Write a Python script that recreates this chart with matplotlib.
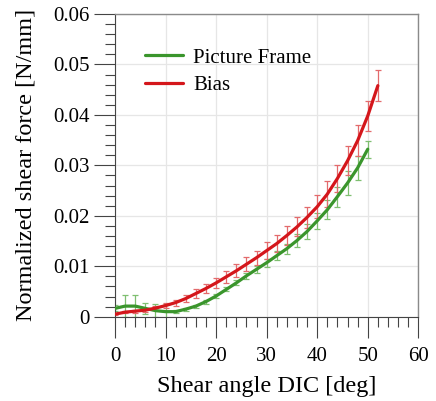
import matplotlib
matplotlib.use("Agg")
import matplotlib.pyplot as plt
from matplotlib.ticker import MultipleLocator

plt.rcParams['font.family'] = ['Liberation Serif', 'DejaVu Serif']

# Picture Frame (green)
pf_x = [0, 2, 4, 6, 8, 10, 12, 14, 16, 18, 20, 22, 24, 26, 28, 30, 32, 34, 36, 38, 40, 42, 44, 46, 48, 50]
pf_y = [0.00165, 0.0021, 0.0021, 0.00165, 0.0012, 0.0010, 0.0010, 0.0015, 0.0021, 0.0030, 0.0041,
        0.0054, 0.0067, 0.0081, 0.0094, 0.0107, 0.0121, 0.0135, 0.0151, 0.0169, 0.0190, 0.0212,
        0.0238, 0.0265, 0.0295, 0.0332]
pf_err = [0.0006, 0.0022, 0.0022, 0.0011, 0.0013, 0.0015, 0.0003, 0.0003, 0.0003, 0.0004, 0.0004,
          0.0004, 0.0005, 0.0006, 0.0007, 0.0008, 0.0009, 0.0010, 0.0012, 0.0014, 0.0016, 0.0019,
          0.0020, 0.0023, 0.0024, 0.0017]

# Bias (red)
bias_x = [0, 2, 4, 6, 8, 10, 12, 14, 16, 18, 20, 22, 24, 26, 28, 30, 32, 34, 36, 38, 40, 42, 44, 46, 48, 50, 52]
bias_y = [0.0005, 0.0009, 0.0011, 0.0013, 0.0017, 0.0022, 0.0028, 0.0036, 0.0046, 0.0056, 0.0067,
          0.0079, 0.0091, 0.0104, 0.0117, 0.0131, 0.0145, 0.0161, 0.0178, 0.0197, 0.0218, 0.0243,
          0.0274, 0.0309, 0.0349, 0.0398, 0.0458]
bias_err = [0.0002, 0.0002, 0.0003, 0.0003, 0.0004, 0.0005, 0.0006, 0.0007, 0.0008, 0.0009, 0.0010,
            0.0012, 0.0013, 0.0014, 0.0014, 0.0017, 0.0017, 0.0018, 0.0019, 0.0021, 0.0023, 0.0026,
            0.0026, 0.0029, 0.0031, 0.0030, 0.0031]

labels = ["Picture Frame", "Bias"]
green = "#3a952c"
red = "#d4161b"
green_err = "#7fbf70"
red_err = "#e36a6c"

fig = plt.figure(figsize=(4.36, 4.01), dpi=100)
ax = fig.add_axes([115/436, (401-316.7)/401, 303.3/436, 302.7/401])

ax.errorbar(pf_x, pf_y, yerr=pf_err, fmt='none', ecolor=green_err, elinewidth=0.9,
            capsize=2.3, capthick=0.9, zorder=2)
ax.errorbar(bias_x, bias_y, yerr=bias_err, fmt='none', ecolor=red_err, elinewidth=0.9,
            capsize=2.3, capthick=0.9, zorder=2)
ax.plot(pf_x, pf_y, color=green, lw=2.3, label=labels[0], zorder=3, solid_capstyle='round',
        solid_joinstyle='round')
ax.plot(bias_x, bias_y, color=red, lw=2.3, label=labels[1], zorder=4, solid_capstyle='round',
        solid_joinstyle='round')

ax.set_xlim(0, 60)
ax.set_ylim(0, 0.06)
ax.xaxis.set_major_locator(MultipleLocator(10))
ax.xaxis.set_minor_locator(MultipleLocator(2))
ax.yaxis.set_minor_locator(MultipleLocator(0.002))
yticks = [0, 0.01, 0.02, 0.03, 0.04, 0.05, 0.06]
ytick_labels = ["0", "0.01", "0.02", "0.03", "0.04", "0.05", "0.06"]
ax.set_yticks(yticks)
ax.set_yticklabels(ytick_labels)

ax.tick_params(which='major', direction='out', length=15, width=0.8, color='#444444',
               labelsize=15, pad=3)
ax.tick_params(which='minor', direction='out', length=7.2, width=0.8, color='#444444')
ax.tick_params(axis='x', which='major', pad=7)
for t in ax.get_xticklabels() + ax.get_yticklabels():
    t.set_fontfamily(['Liberation Serif', 'DejaVu Serif'])

ax.grid(True, which='major', color='#e6e6e6', lw=0.9, zorder=0)
ax.set_axisbelow(True)
for s in ['top', 'right']:
    ax.spines[s].set_color('#8a8a8a')
    ax.spines[s].set_linewidth(1.0)
for s in ['left', 'bottom']:
    ax.spines[s].set_color('#444444')
    ax.spines[s].set_linewidth(0.8)

ax.set_xlabel("Shear angle DIC [deg]", fontsize=17.5, labelpad=7)
ax.set_ylabel("Normalized shear force [N/mm]", fontsize=17.5, labelpad=12)

ax.legend(loc='upper left', bbox_to_anchor=(0.099, (316.7-48)/302.7), frameon=False,
          fontsize=15, handlelength=1.8, handletextpad=0.5, labelspacing=0.4,
          borderpad=0, borderaxespad=0)

fig.savefig("out.png", dpi=100)
